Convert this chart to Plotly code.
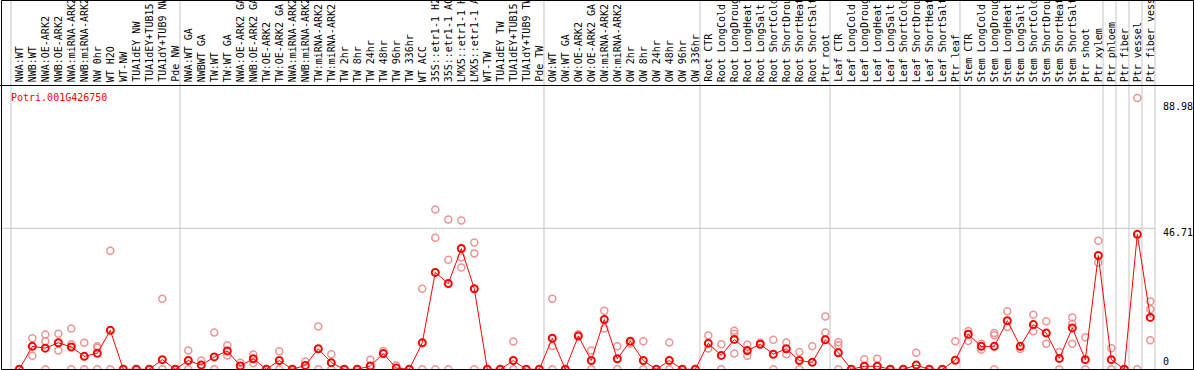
import plotly.graph_objects as go

gene_id = "Potri.001G426750"

categories = [
    "NWA:WT", "NWB:WT", "NWA:OE-ARK2", "NWB:OE-ARK2", "NWA:miRNA-ARK2", "NWB:miRNA-ARK2",
    "NW 0hr", "WT H2O", "WT-NW", "TUA1dEY NW", "TUA1dEY+TUB15 NW", "TUA1dY+TUB9 NW", "Pde NW",
    "NWA:WT GA", "NWBWT GA", "TW:WT", "TW:WT GA", "NWA:OE-ARK2 GA", "NWB:OE-ARK2 GA",
    "TW:OE-ARK2", "TW:OE-ARK2 GA", "NWA:miRNA-ARK2", "NWB:miRNA-ARK2", "TW:miRNA-ARK2",
    "TW:miRNA-ARK2 GA", "TW 2hr", "TW 8hr", "TW 24hr", "TW 48hr", "TW 96hr", "TW 336hr",
    "WT ACC", "35S::etr1-1 H2O", "35S::etr1-1 ACC", "LMX5::etr1-1 H2O", "LMX5::etr1-1 ACC",
    "WT-TW", "TUA1dEY TW", "TUA1dEY+TUB15 TW", "TUA1dY+TUB9 TW", "Pde TW",
    "OW:WT", "OW:WT GA", "OW:OE-ARK2", "OW:OE-ARK2 GA", "OW:miRNA-ARK2", "OW:miRNA-ARK2 GA",
    "OW 2hr", "OW 8hr", "OW 24hr", "OW 48hr", "OW 96hr", "OW 336hr",
    "Root CTR", "Root LongCold", "Root LongDrought", "Root LongHeat", "Root LongSalt",
    "Root ShortCold", "Root ShortDrought", "Root ShortHeat", "Root ShortSalt", "Ptr root",
    "Leaf CTR", "Leaf LongCold", "Leaf LongDrought", "Leaf LongHeat", "Leaf LongSalt",
    "Leaf ShortCold", "Leaf ShortDrought", "Leaf ShortHeat", "Leaf ShortSalt", "Ptr leaf",
    "Stem CTR", "Stem LongCold", "Stem LongDrought", "Stem LongHeat", "Stem LongSalt",
    "Stem ShortCold", "Stem ShortDrought", "Stem ShortHeat", "Stem ShortSalt", "Ptr shoot",
    "Ptr xylem", "Ptr phloem", "Ptr fiber", "Ptr vessel", "Ptr fiber vessel",
]

means = [
    0, 7.6, 7.0, 8.8, 7.4, 4.3, 5.3, 12.9, 0, 0, 0, 3.2, 0,
    2.9, 1.4, 4.1, 6.1, 1.1, 3.5, 0, 2.9, 0, 1.3, 6.8, 2.2, 0, 0, 1.1, 5.2, 0.4, 0,
    8.8, 32.1, 28.4, 40.0, 26.7, 0, 0, 2.9, 0, 0,
    10.3, 0, 11.0, 2.9, 16.5, 3.5, 9.3, 2.9, 0, 2.9, 0, 0,
    8.6, 4.6, 9.9, 6.2, 8.3, 5.0, 6.8, 2.9, 2.3, 9.8,
    5.5, 0, 1.0, 1.0, 0, 0, 1.4, 0, 0, 3.0,
    11.6, 7.6, 7.6, 16.1, 7.6, 14.8, 12.0, 3.6, 13.7, 3.2,
    37.7, 3.2, 0, 44.7, 17.2,
]

rep_a = [
    None, 10.3, 11.5, 11.8, 13.5, 8.8, 7.6, 39.3, None, None, None, 23.4, None,
    6.2, 2.9, 12.2, 8.0, 2.2, 4.9, None, 6.0, None, 2.6, 14.2, 5.0, None, None, 3.2, 6.1, 1.3, None,
    26.7, 52.9, 49.6, 49.3, 42.0, None, None, 9.2, None, None,
    23.4, None, 11.6, 6.2, 19.4, 7.6, 8.5, 9.3, None, 8.9, None, None,
    11.2, 8.3, 12.8, 8.1, 8.9, 9.8, 8.9, 5.7, 7.6, 17.5,
    9.0, None, 3.3, 3.5, None, None, 5.5, None, None, 9.3,
    12.7, 8.5, 12.0, 19.2, 6.7, 18.1, 15.9, 5.7, 17.2, 10.6,
    42.6, 7.0, None, 89.9, 22.5,
]

rep_b = [
    None, 4.5, 9.3, 6.2, 8.3, 0, 7.1, 0, None, None, None, 0, None,
    0, None, 0, 4.6, None, 2.0, None, 0, None, None, 0, 0, None, None, None, None, None, None,
    0, 43.6, 36.3, 37.0, 38.4, None, None, 0, None, None,
    7.7, None, None, 0, 13.5, 0, None, 0, None, 0, None, None,
    6.9, 0, 11.8, 4.5, None, 0, 5.0, 0, None, 12.2,
    8.0, None, None, None, None, None, None, None, None, None,
    9.4, 6.5, 11.3, 14.0, None, 12.6, 8.5, 0, 15.1, 0,
    35.3, 0, None, 0, 19.9,
]

rep_c = [
    None, None, 0, None, 0, None, 0, None, None, None, None, None, None,
    None, None, None, None, None, None, None, None, None, None, None, None, None, None, None, None, None, None,
    None, 0, 0, 33.7, 0, None, None, None, None, None,
    0, None, None, None, None, None, None, None, None, None, None, None,
    None, None, 5.2, None, None, None, None, None, None, None,
    0, None, None, None, None, None, None, None, None, None,
    None, None, 0, None, None, None, None, None, 8.5, None,
    None, None, None, None, 9.6,
]

group_starts = [0, 13, 41, 53, 63, 73, 84, 85, 86, 87]
y_ticks = [0, 46.71, 88.98]
y_tick_text = ["0", "46.71", "88.98"]

# ---- geometry (pixels of the 1194x370 frame) ----
W, H = 1194, 370
step = 13.0
x_first = 19.3
xmin = -x_first / step
xmax = xmin + W / step
y_zero_px = 369.3
px_per_unit = (369.3 - 228.3) / 46.71
ymin = -(H - y_zero_px) / px_per_unit
ymax = ymin + H / px_per_unit

MONO = "DejaVu Sans Mono, Liberation Mono, monospace"
GRAY = "#c4c4c4"
PINK = "rgb(236,148,148)"
RED = "#ff0000"

idx = list(range(len(categories)))

rx, ry = [], []
for reps in (rep_a, rep_b, rep_c):
    for i, v in enumerate(reps):
        if v is not None:
            rx.append(i)
            ry.append(v)

fig = go.Figure()
fig.add_trace(go.Scatter(
    x=rx, y=ry, mode="markers",
    marker=dict(symbol="circle-open", size=7, color=PINK, line=dict(color=PINK, width=1.5)),
    hoverinfo="skip",
))
fig.add_trace(go.Scatter(
    x=idx, y=means, mode="lines+markers",
    line=dict(color=RED, width=1),
    marker=dict(symbol="circle-open", size=7, color=RED, line=dict(color=RED, width=2)),
    text=categories, hovertemplate="%{text}: %{y}<extra></extra>",
))

shapes = []
# group separators
bounds = group_starts + [len(categories)]
for s in bounds:
    xv = s - 0.64
    shapes.append(dict(type="line", xref="x", yref="paper", x0=xv, x1=xv, y0=0, y1=1,
                       line=dict(color=GRAY, width=1), layer="below"))
# gridline at middle tick
shapes.append(dict(type="line", xref="x", yref="y", x0=xmin, x1=bounds[-1] - 0.64,
                   y0=y_ticks[1], y1=y_ticks[1], line=dict(color=GRAY, width=1), layer="below"))
# frame
shapes.append(dict(type="rect", xref="paper", yref="paper",
                   x0=1.5 / W, x1=1193.5 / W, y0=1 - 369.5 / H, y1=1 - 0.5 / H,
                   line=dict(color="black", width=1)))
shapes.append(dict(type="line", xref="paper", yref="paper", x0=0, x1=1,
                   y0=1 - 85.5 / H, y1=1 - 85.5 / H, line=dict(color="black", width=1)))

annotations = []
for i, name in enumerate(categories):
    annotations.append(dict(x=i, xref="x", y=1 - 84 / H, yref="paper", text=name,
                            textangle=-90, xanchor="center", yanchor="bottom",
                            showarrow=False, font=dict(family=MONO, size=10, color="black")))
annotations.append(dict(x=9 / W, xref="paper", y=1 - 97 / H, yref="paper", text=gene_id,
                        xanchor="left", yanchor="middle", showarrow=False,
                        font=dict(family=MONO, size=10, color=RED)))
yshifts = [7.5, -4, -6]
for v, t, sh in zip(y_ticks, y_tick_text, yshifts):
    annotations.append(dict(x=1161 / W, xref="paper", y=v, yref="y", text=t,
                            xanchor="left", yanchor="middle", yshift=sh, showarrow=False,
                            font=dict(family=MONO, size=10, color="black")))

fig.update_layout(
    width=W, height=H, autosize=False,
    margin=dict(l=0, r=0, t=0, b=0, pad=0),
    paper_bgcolor="white", plot_bgcolor="white",
    showlegend=False,
    xaxis=dict(range=[xmin, xmax], visible=False, fixedrange=True),
    yaxis=dict(range=[ymin, ymax], visible=False, fixedrange=True),
    shapes=shapes, annotations=annotations,
)

# remove the browser's default page margin so the 1194x370 figure fills the window
page_fix = "document.body.style.margin='0';document.body.style.overflow='hidden';"
fig.write_html("out.html", config={"displayModeBar": False}, post_script=page_fix)
